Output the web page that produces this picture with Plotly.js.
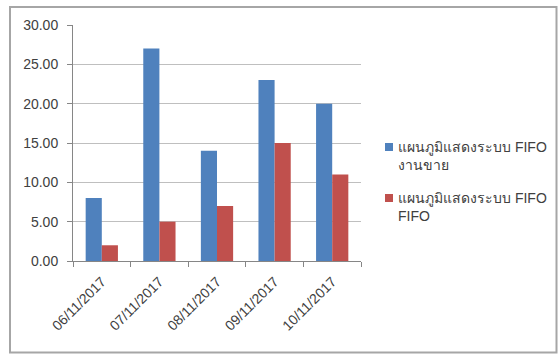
<!DOCTYPE html>
<html>
<head>
<meta charset="utf-8">
<script src="https://cdn.plot.ly/plotly-3.0.1.min.js"></script>
<style>
  html, body { margin: 0; padding: 0; background: #fff; }
  #chart { width: 558px; height: 354px; }
</style>
</head>
<body>
<div id="chart"></div>
<script>
// Daily dates on the category axis
const dates = ['06/11/2017', '07/11/2017', '08/11/2017', '09/11/2017', '10/11/2017'];
// Sales (งานขาย) per day
const salesValues = [8, 27, 14, 23, 20];
// FIFO per day
const fifoValues = [2, 5, 7, 15, 11];
// Series names shown in the legend
const seriesNames = ['แผนภูมิแสดงระบบ FIFO<br>งานขาย', 'แผนภูมิแสดงระบบ FIFO<br>FIFO'];
const seriesColors = ['#4F81BD', '#C0504D'];
const yTicks = [0, 5, 10, 15, 20, 25, 30];

const W = 558, H = 354;
const M = { l: 73, r: 197, t: 25, b: 93 };
const PW = W - M.l - M.r, PH = H - M.t - M.b;
// pixel -> paper helpers for the frame and legend
const px = x => (x - M.l) / PW;
const py = y => (H - M.b - y) / PH;

const textFont = { family: 'Liberation Sans, Arial, sans-serif', size: 14, color: '#404040' };

const traces = [
  { type: 'bar', x: dates, y: salesValues, name: seriesNames[0], marker: { color: seriesColors[0] } },
  { type: 'bar', x: dates, y: fifoValues, name: seriesNames[1], marker: { color: seriesColors[1] } }
];

// legend drawn as swatches plus text
const legendRows = [143, 194];
const shapes = [
  { type: 'rect', xref: 'paper', yref: 'paper', x0: px(10), x1: px(556.5), y0: py(352.5), y1: py(7),
    line: { color: '#a6a6a6', width: 2 }, fillcolor: 'rgba(0,0,0,0)', layer: 'below' }
];
const annotations = [];
seriesNames.forEach((name, i) => {
  const top = legendRows[i];
  shapes.push({ type: 'rect', xref: 'paper', yref: 'paper', x0: px(385), x1: px(393), y0: py(top + 8), y1: py(top),
    fillcolor: seriesColors[i], line: { width: 0 } });
  annotations.push({ xref: 'paper', yref: 'paper', x: px(396), y: py(top - 6), xanchor: 'left', yanchor: 'top',
    align: 'left', showarrow: false, text: name, font: textFont });
});

const layout = {
  width: W, height: H,
  margin: M,
  paper_bgcolor: '#fff', plot_bgcolor: '#fff',
  showlegend: false,
  barmode: 'group',
  bargap: 0.44, bargroupgap: 0,
  font: textFont,
  xaxis: {
    type: 'category', tickangle: -45, tickson: 'boundaries',
    ticks: 'outside', ticklen: 5, tickcolor: '#868686',
    showline: true, linecolor: '#868686', linewidth: 1,
    showgrid: false, tickfont: textFont, ticklabelstandoff: 6
  },
  yaxis: {
    range: [0, 30], tickvals: yTicks, ticktext: yTicks.map(v => v.toFixed(2)),
    ticks: 'outside', ticklen: 5, tickcolor: '#868686',
    showline: true, linecolor: '#868686', linewidth: 1,
    showgrid: true, gridcolor: '#bfbfbf', gridwidth: 1,
    zeroline: false, tickfont: textFont, ticklabelstandoff: 6
  },
  shapes: shapes,
  annotations: annotations
};

Plotly.newPlot('chart', traces, layout, { displayModeBar: false, staticPlot: true });
</script>
</body>
</html>
